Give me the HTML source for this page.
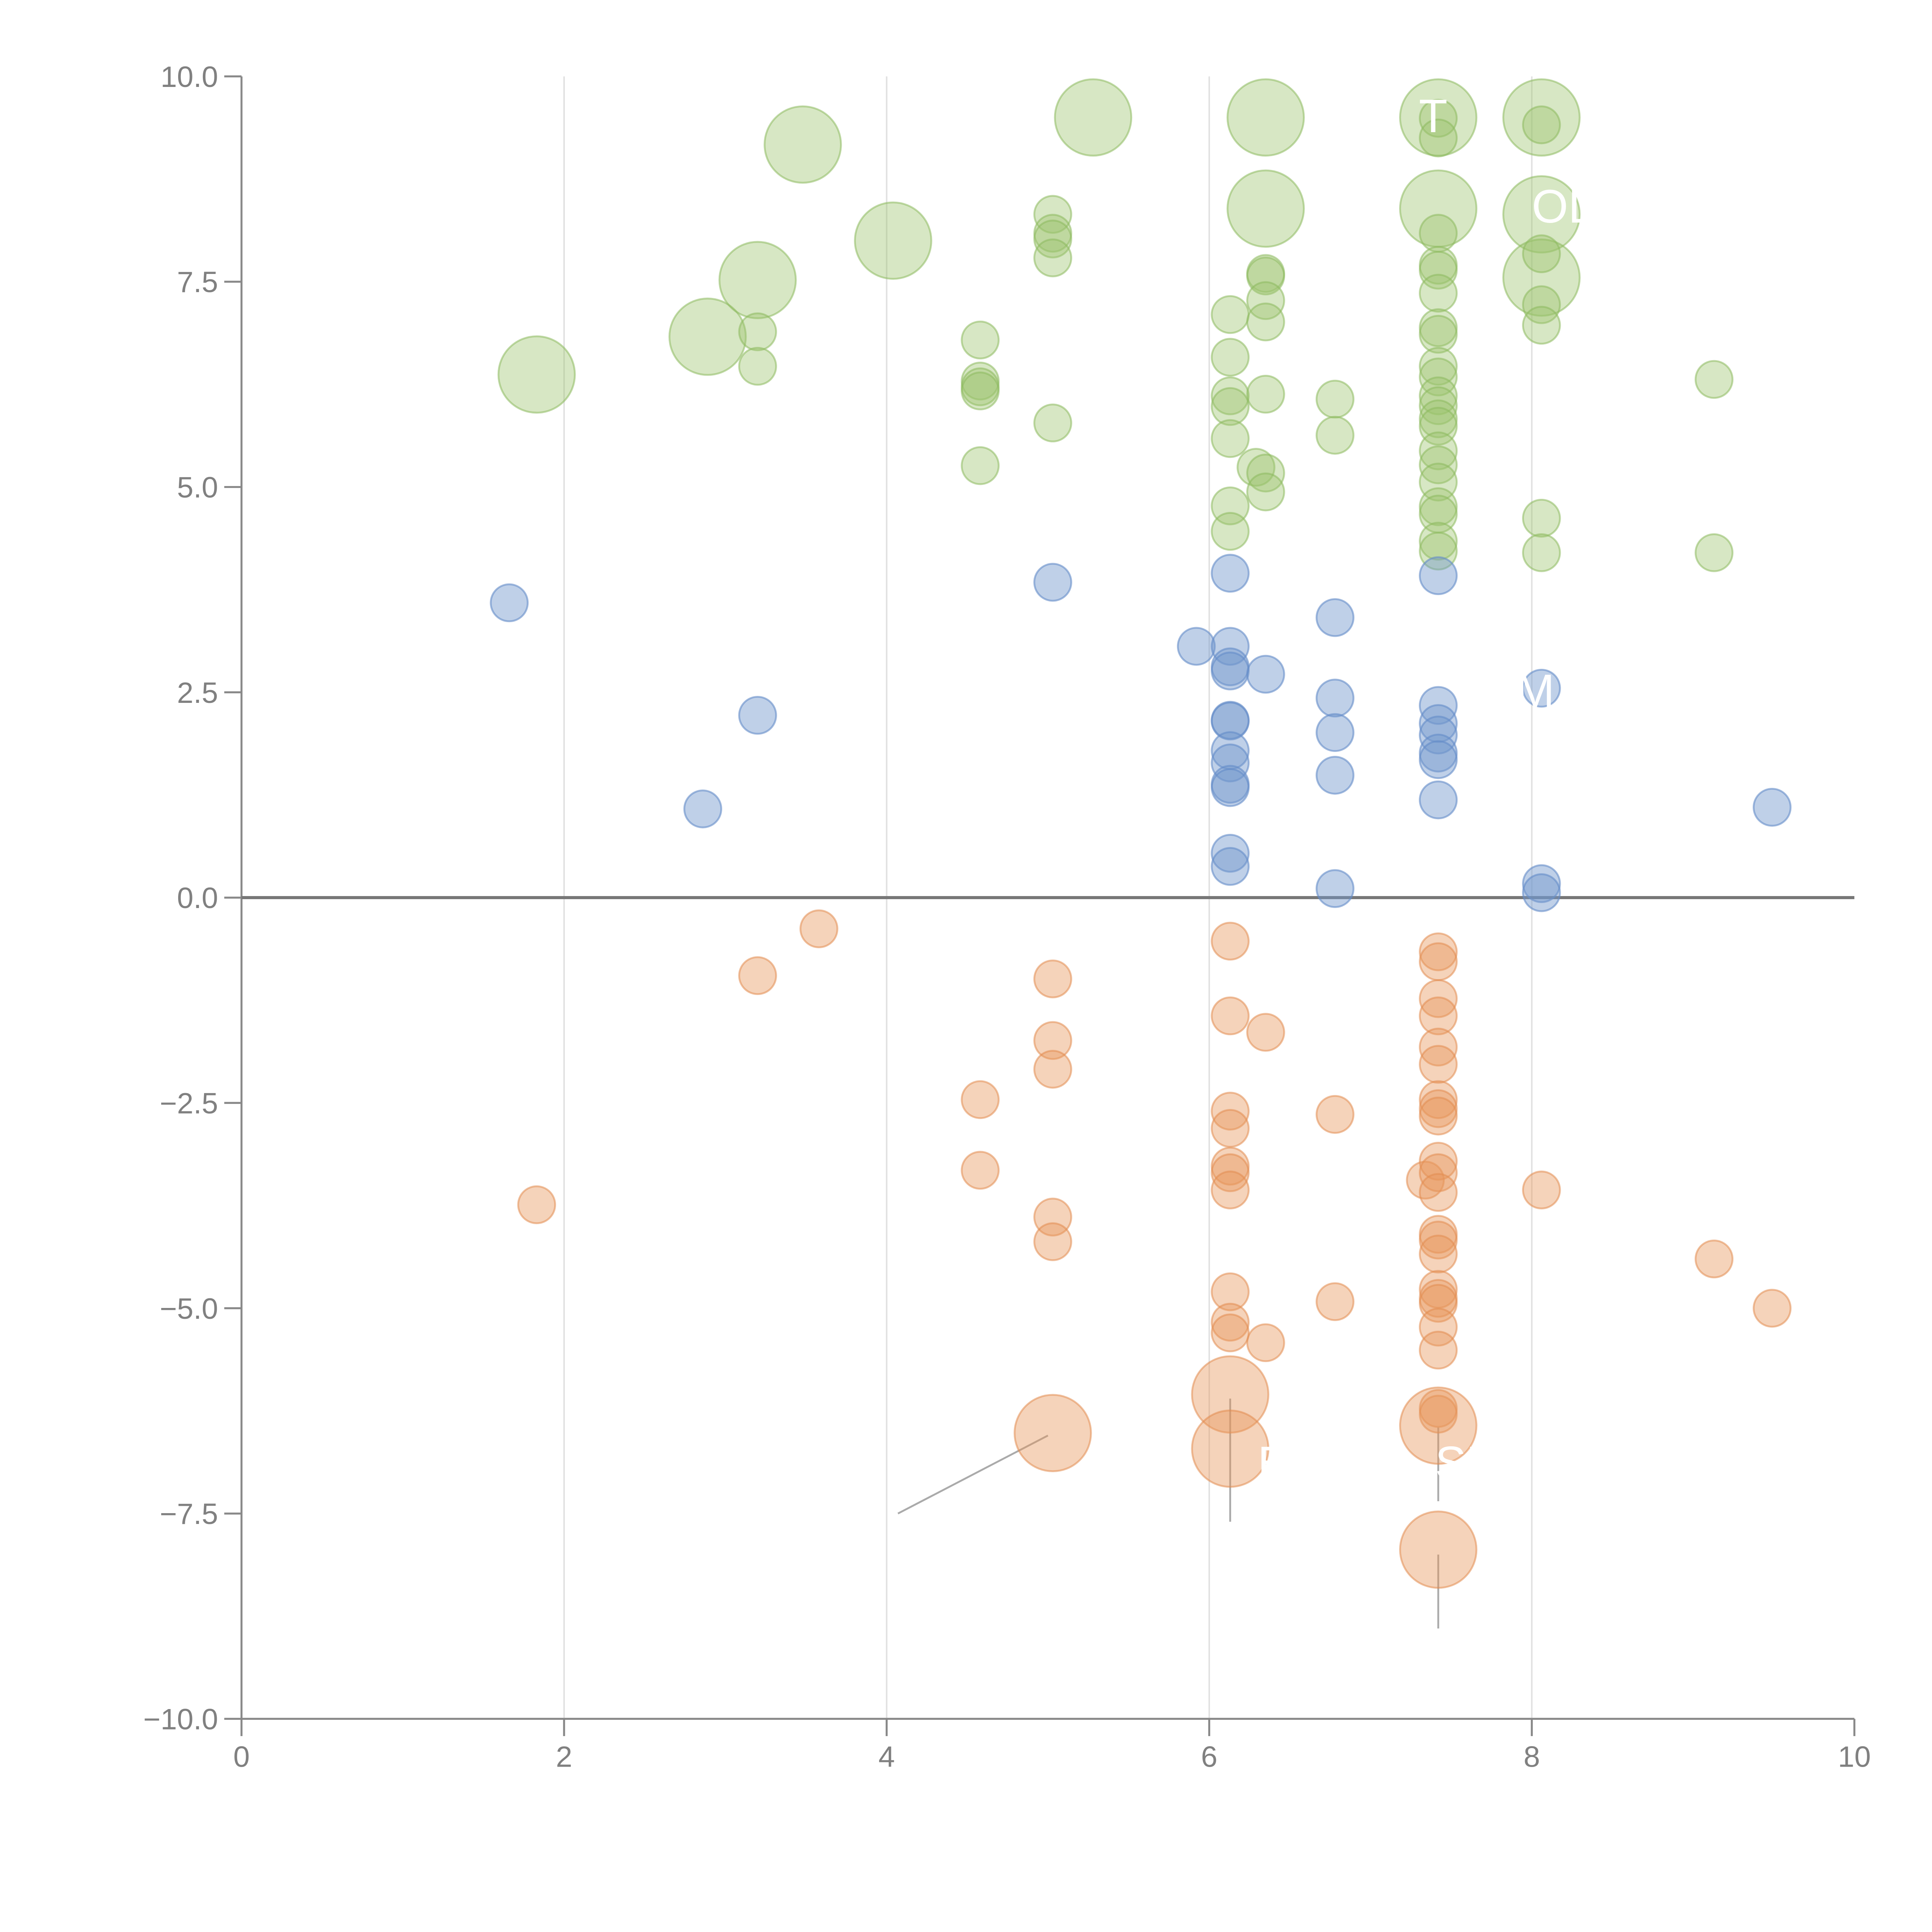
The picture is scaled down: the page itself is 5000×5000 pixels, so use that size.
<!DOCTYPE html>
<html><head><meta charset="utf-8"><style>html,body{margin:0;padding:0;background:#fff}svg{display:block}</style></head>
<body>
<svg id="chart" width="5000" height="5000" viewBox="0 0 1568 1568" xmlns="http://www.w3.org/2000/svg" font-family="Liberation Sans, sans-serif"></svg>
<script>
const xTicks=[0,2,4,6,8,10];
const yTicks=[-10,-7.5,-5,-2.5,0,2.5,5,7.5,10];
const greenX=[1.83,2.89,3.20,3.48,4.04,5.28,6.35,6.35,7.42,7.42,8.06,8.06,8.06,
3.20,3.20,4.58,4.58,4.58,4.58,4.58,5.03,5.03,5.03,5.03,5.03,6.13,6.13,6.13,6.13,6.13,6.13,6.13,
6.35,6.35,6.35,6.35,6.35,6.29,6.35,6.35,6.78,6.78,
7.42,7.42,7.42,7.42,7.42,7.42,7.42,7.42,7.42,7.42,7.42,7.42,7.42,7.42,7.42,7.42,7.42,7.42,7.42,7.42,7.42,
8.06,8.06,8.06,8.06,8.06,8.06,9.13,9.13];
const greenY=[6.37,6.83,7.52,9.17,8.00,9.50,9.50,8.39,9.50,8.39,9.50,8.32,7.55,
6.89,6.47,6.79,6.29,6.22,6.17,5.26,8.32,8.09,8.02,7.79,5.78,7.10,6.58,6.11,5.98,5.59,4.77,4.46,
7.60,7.57,7.27,7.01,6.13,5.24,5.17,4.94,6.07,5.63,
9.49,9.25,8.09,7.70,7.64,7.36,6.94,6.86,6.47,6.34,6.11,5.99,5.83,5.74,5.44,5.27,5.06,4.76,4.67,4.34,4.22,
9.41,7.84,7.22,6.97,4.62,4.20,6.31,4.20];
const greenBig=[1,1,1,1,1,1,1,1,1,1,1,1,1];
const blueX=[1.66,2.86,3.20,5.03,5.92,6.13,6.13,6.13,6.13,6.13,6.13,6.13,6.13,6.13,6.13,6.13,6.13,6.35,6.78,6.78,6.78,6.78,6.78,7.42,7.42,7.42,7.42,7.42,7.42,7.42,8.06,8.06,8.06,9.49];
const blueY=[3.59,1.08,2.22,3.84,3.06,3.95,3.06,2.81,2.76,2.16,2.15,1.79,1.64,1.38,1.34,0.54,0.38,2.72,3.41,2.43,2.01,1.49,0.11,3.92,2.34,2.12,1.98,1.76,1.68,1.19,2.55,0.17,0.06,1.10];
const orangeX=[1.83,3.20,3.58,4.58,4.58,5.03,5.03,5.03,5.03,5.03,6.13,6.13,6.13,6.13,6.13,6.13,6.13,6.13,6.13,6.13,6.35,6.35,6.78,6.78,7.34,
7.42,7.42,7.42,7.42,7.42,7.42,7.42,7.42,7.42,7.42,7.42,7.42,7.42,7.42,7.42,7.42,7.42,7.42,7.42,7.42,7.42,7.42,8.06,9.13,9.49,
5.03,6.13,6.13,7.42,7.42];
const orangeY=[-3.74,-0.95,-0.38,-2.46,-3.32,-0.99,-1.74,-2.09,-3.89,-4.19,-0.53,-1.44,-2.60,-2.81,-3.27,-3.35,-3.56,-4.80,-5.17,-5.30,-1.64,-5.42,-2.64,-4.92,-3.44,
-0.66,-0.78,-1.23,-1.44,-1.82,-2.03,-2.46,-2.57,-2.66,-3.21,-3.35,-3.59,-4.10,-4.17,-4.34,-4.77,-4.88,-4.94,-5.23,-5.51,-6.22,-6.29,-3.56,-4.40,-5.00,
-6.52,-6.05,-6.71,-6.43,-7.94];
const orangeBigFrom=50;

const X0=196,X1=1505,Y0=1395,Y1=62;
const sx=v=>X0+(v-0)/10*(X1-X0);
const sy=v=>Y0-(v+10)/20*(Y0-Y1);
const svg=document.getElementById('chart');
const NS='http://www.w3.org/2000/svg';
function mk(t,a){const e=document.createElementNS(NS,t);for(const k in a)e.setAttribute(k,a[k]);svg.appendChild(e);return e;}

xTicks.slice(1,5).forEach(t=>{
  const g=mk('line',{x1:sx(t),x2:sx(t),y1:Y1,y2:Y0,stroke:'#e0e0e0','stroke-width':1.2});
  
  
});
const ya=mk('line',{x1:X0,x2:X0,y1:Y1,y2:Y0,stroke:'#888','stroke-width':1.6});


const xa=mk('line',{x1:X0,x2:X1,y1:Y0,y2:Y0,stroke:'#888','stroke-width':1.6});


yTicks.forEach(t=>{
  const l=mk('line',{x1:X0-14,x2:X0,y1:sy(t),y2:sy(t),stroke:'#888','stroke-width':1.6});
  
  
  const tx=mk('text',{x:X0-19,y:sy(t)+8.5,'text-anchor':'end','font-size':24,fill:'#808080'});
  tx.textContent=(t<0?'\u2212':'')+Math.abs(t).toFixed(1);
  
  
});
xTicks.forEach(t=>{
  const l=mk('line',{x1:sx(t),x2:sx(t),y1:Y0,y2:Y0+14,stroke:'#888','stroke-width':1.6});
  
  
  const tx=mk('text',{x:sx(t),y:Y0+39,'text-anchor':'middle','font-size':24,fill:'#808080'});
  tx.textContent=String(t);
  
  
});
const z=mk('line',{x1:X0,x2:X1,y1:sy(0),y2:sy(0),stroke:'#777','stroke-width':2.5});



[[4.07,-7.5,5.0,-6.55],[6.13,-6.1,6.13,-7.6],[7.42,-6.45,7.42,-7.35],[7.42,-8.0,7.42,-8.9]].forEach(p=>{
  const l=mk('line',{x1:sx(p[0]),y1:sy(p[1]),x2:sx(p[2]),y2:sy(p[3]),stroke:'#aaa','stroke-width':1.5});
  
  
});

function dots(xs,ys,bigFn,fill,stroke,name){
  xs.forEach((x,i)=>{
    const big=bigFn(i);
    const c=mk('circle',{cx:sx(x),cy:sy(ys[i]),r:big?31:15,fill:fill,stroke:stroke,'stroke-width':1.5});
    
    
  });
}
dots(greenX,greenY,i=>greenBig[i]===1,'rgba(155,194,107,0.4)','rgba(140,185,95,0.55)','bubble-positive');
dots(blueX,blueY,()=>false,'rgba(112,150,204,0.45)','rgba(100,140,200,0.6)','bubble-neutral');
dots(orangeX,orangeY,i=>i>=orangeBigFrom,'rgba(230,150,90,0.42)','rgba(225,140,80,0.55)','bubble-negative');

[[7.3,9.5,'T'],[8.0,8.4,'OLI'],[6.9,2.4,'AI'],[7.9,2.5,'M'],[6.3,-6.9,'B'],[7.4,-6.9,'SP']].forEach(p=>{
  const t=mk('text',{x:sx(p[0]),y:sy(p[1])+12,'font-size':38,fill:'#fff'});
  t.textContent=p[2];
  
  
});
</script>
</body></html>
